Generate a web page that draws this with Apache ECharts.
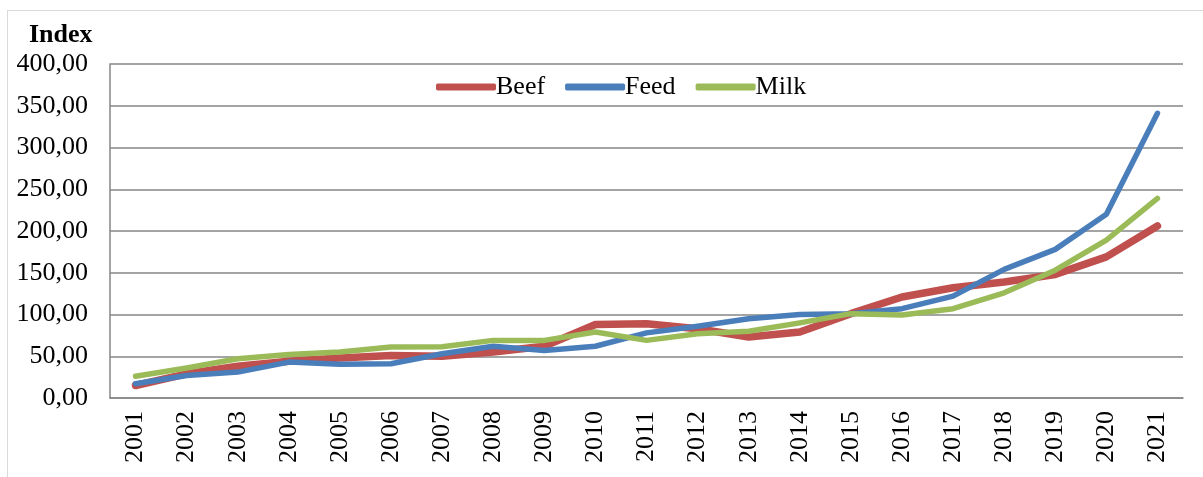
<!DOCTYPE html>
<html>
<head>
    <meta charset="utf-8">
    <title>Index</title>
    <script src="https://cdn.jsdelivr.net/npm/echarts@6/dist/echarts.min.js"></script>
    <style>
        body { margin: 0; background: #fff; }
        #frame { position: absolute; left: 7px; top: 10px; width: 1200px; height: 470px; border: 1px solid #d9d9d9; box-sizing: border-box; }
        #main { position: absolute; left: 0; top: 0; width: 1203px; height: 477px; }
    </style>
</head>
<body>
<div id="frame"></div>
<div id="main"></div>
<script type="text/javascript">
    // years and index values
    var years = ['2001','2002','2003','2004','2005','2006','2007','2008','2009','2010','2011',
                 '2012','2013','2014','2015','2016','2017','2018','2019','2020','2021'];
    var beef = [15, 29, 38, 44, 48, 51, 50, 55, 62, 88, 89, 83, 73, 79, 101, 121, 132, 139, 148, 169, 206];
    var feed = [17, 27, 31, 43, 40.5, 41, 53, 62, 57, 62, 78, 86, 95, 100, 101, 107, 122, 154, 178, 220, 341];
    var milk = [26, 36, 47, 52, 55, 61, 61.5, 69, 69, 79, 69, 77, 80, 90, 101, 99.5, 107, 126, 153, 189, 239];

    var font = '"Liberation Serif", "Times New Roman", serif';
    var myChart = echarts.init(document.getElementById('main'));

    var option = {
        backgroundColor: 'transparent',
        animation: false,
        title: {
            text: 'Index',
            left: 24,
            top: 17,
            textStyle: { fontFamily: font, fontSize: 26, fontWeight: 'bold', color: '#000' }
        },
        legend: {
            data: ['Beef', 'Feed', 'Milk'],
            left: 431,
            top: 69,
            icon: 'roundRect',
            itemWidth: 60,
            itemHeight: 7,
            itemGap: 20,
            textStyle: { fontFamily: font, fontSize: 26, color: '#000', padding: [0, 0, 0, -5] }
        },
        grid: {
            left: 110,
            right: 20,
            top: 64,
            bottom: 79,
            containLabel: false
        },
        xAxis: {
            type: 'category',
            data: years,
            boundaryGap: true,
            axisLine: { lineStyle: { color: '#868686', width: 1.5 } },
            axisTick: { show: false },
            axisLabel: {
                rotate: 90,
                margin: 13,
                fontFamily: font,
                fontSize: 26,
                color: '#000'
            }
        },
        yAxis: {
            type: 'value',
            min: 0,
            max: 400,
            interval: 50,
            axisLine: { show: true, lineStyle: { color: '#868686', width: 1.5 } },
            axisTick: { show: false },
            splitLine: { lineStyle: { color: '#868686', width: 1.5 } },
            axisLabel: {
                margin: 22,
                fontFamily: font,
                fontSize: 26,
                color: '#000',
                formatter: function (v) { return v.toFixed(2).replace('.', ','); }
            }
        },
        series: [
            {
                name: 'Beef',
                type: 'line',
                data: beef,
                symbol: 'none',
                color: '#C0504D',
                lineStyle: { width: 7.5, cap: 'round', join: 'round' }
            },
            {
                name: 'Feed',
                type: 'line',
                data: feed,
                symbol: 'none',
                color: '#4A7EBB',
                lineStyle: { width: 5.5, cap: 'round', join: 'round' }
            },
            {
                name: 'Milk',
                type: 'line',
                data: milk,
                symbol: 'none',
                color: '#9BBB59',
                lineStyle: { width: 5.5, cap: 'round', join: 'round' }
            }
        ]
    };

    myChart.setOption(option);
</script>
</body>
</html>
